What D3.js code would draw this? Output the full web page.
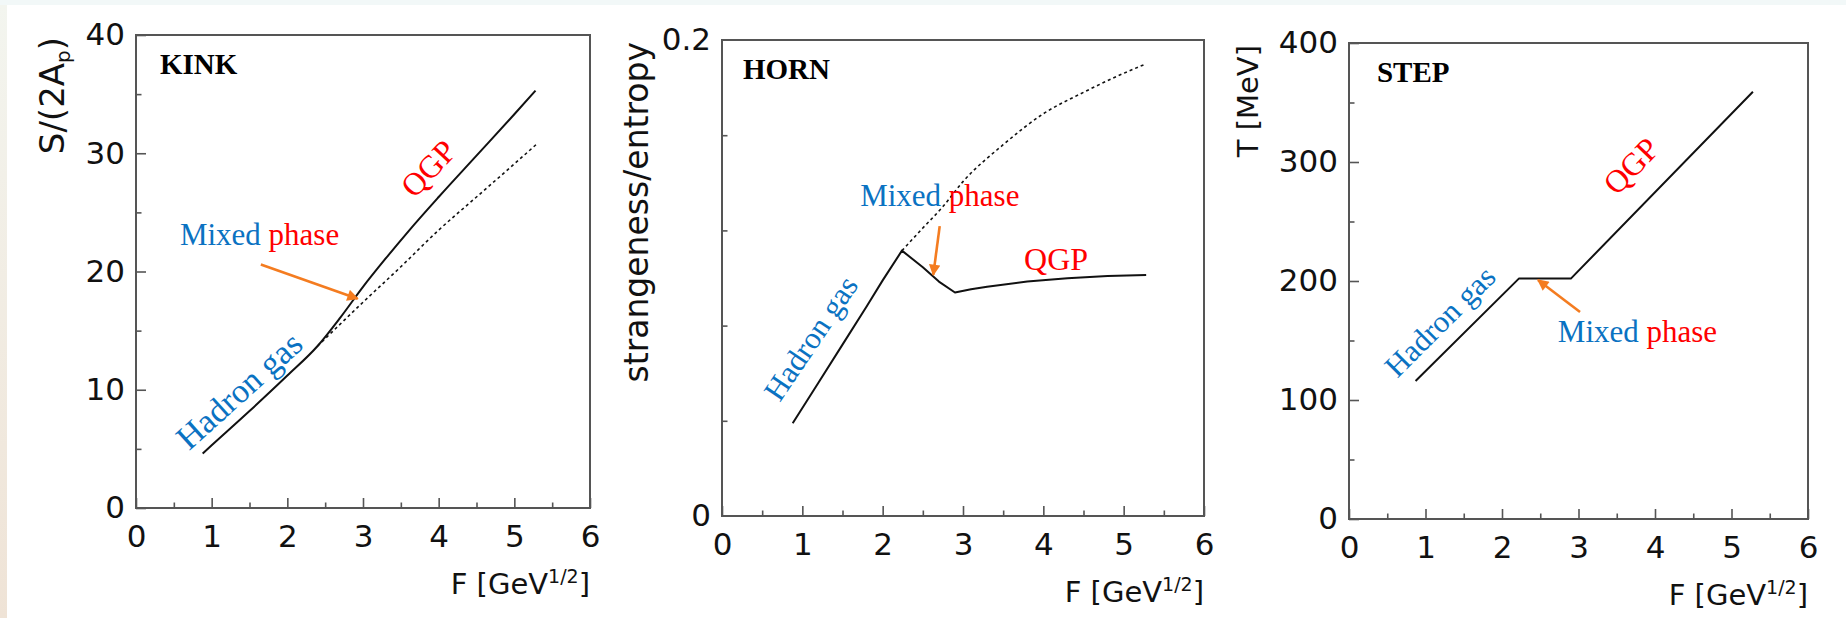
<!DOCTYPE html>
<html lang="en">
<head>
<meta charset="UTF-8">
<title>Kink, horn and step</title>
<script src="https://d3js.org/d3.v7.min.js"></script>
<style>
  body { margin: 0; background: #fff; }
  .tick text { font-family: "DejaVu Sans", sans-serif; fill: #111; }
  .note { font-family: "Liberation Serif", serif; }
</style>
</head>
<body>
<div id="chart"></div>
<script>
// shared x axis: F in GeV^1/2
var fTicks = [0, 1, 2, 3, 4, 5, 6];
var fMinor = [0.5, 1.5, 2.5, 3.5, 4.5, 5.5];

// KINK: entropy per participant nucleon
var kinkF = [0.88, 1.0, 1.5, 2.0, 2.4, 2.7, 3.0, 3.3, 3.6, 4.0, 4.5, 5.0, 5.28];
var kinkS = [4.6, 5.3, 8.2, 11.2, 13.7, 16.1, 18.7, 21.1, 23.4, 26.3, 29.8, 33.3, 35.3];
var kinkHadF = [2.4, 3.0, 3.5, 4.0, 4.5, 5.0, 5.3];
var kinkHadS = [13.7, 17.4, 20.4, 23.5, 26.3, 29.1, 30.8];
var kinkTicks = [0, 10, 20, 30, 40];
var kinkMinor = [5, 15, 25, 35];

// HORN: strangeness / entropy
var hornF = [0.88, 1.2, 1.5, 1.8, 2.0, 2.24, 2.5, 2.7, 2.9, 3.1, 3.3, 3.8, 4.3, 4.8, 5.28];
var hornR = [0.039, 0.056, 0.072, 0.088, 0.099, 0.1115, 0.1045, 0.0985, 0.0939, 0.0953, 0.0963, 0.0985, 0.0999, 0.1008, 0.1013];
var hornHadF = [2.24, 2.5, 2.75, 3.0, 3.5, 4.0, 4.5, 5.0, 5.28];
var hornHadR = [0.1115, 0.121, 0.130, 0.1405, 0.156, 0.169, 0.178, 0.186, 0.190];
var hornTicks = [0, 0.2];
var hornMinor = [0.04, 0.08, 0.12, 0.16];

// STEP: temperature
var stepF = [0.87, 2.22, 2.9, 5.28];
var stepT = [116, 202, 202, 359];
var stepTicks = [0, 100, 200, 300, 400];
var stepMinor = [50, 150, 250, 350];

var blue = "#0a72c2", red = "#ff0000", orange = "#f47c20";

var panels = [
  { title: "KINK", box: [136, 590, 35, 508], yMax: 40, ticks: kinkTicks, minor: kinkMinor, fmt: d3.format("d"),
    solid: [kinkF, kinkS], smooth: true, dotted: [kinkHadF, kinkHadS],
    yTitle: ["S/(2A", "p", ")"], yTitleX: 64, yTitleSize: 34,
    titlePos: [0.317, 36.7], mixed: [0.58, 22.2], arrow: [[1.65, 20.6], [2.93, 17.7]],
    qgp: [3.68, 26.1, -47], hadron: [0.70, 4.8, -42], hadronSize: 34 },
  { title: "HORN", box: [722, 1204, 40, 516], yMax: 0.2, ticks: hornTicks, minor: hornMinor, fmt: d3.format("~g"),
    solid: [hornF, hornR], smooth: false, dotted: [hornHadF, hornHadR],
    yTitle: ["strangeness/entropy"], yTitleX: 648, yTitleSize: 33,
    titlePos: [0.26, 0.1836], mixed: [1.72, 0.1303], arrow: [[2.71, 0.1218], [2.63, 0.1013]],
    qgp: [3.76, 0.1034, 0], hadron: [0.72, 0.0475, -56], hadronSize: 31 },
  { title: "STEP", box: [1349, 1808, 43, 519], yMax: 400, ticks: stepTicks, minor: stepMinor, fmt: d3.format("d"),
    solid: [stepF, stepT], smooth: false, dotted: null,
    yTitle: ["T [MeV]"], yTitleX: 1258, yTitleSize: 29,
    titlePos: [0.366, 367], mixed: [2.73, 148.7], arrow: [[3.02, 174], [2.47, 200.8]],
    qgp: [3.50, 271, -46], hadron: [0.63, 117.6, -45], hadronSize: 31 }
];

var W = 1846, H = 618;
var svg = d3.select("#chart").append("svg").attr("width", W).attr("height", H);

var defs = svg.append("defs");
var grad = defs.append("linearGradient").attr("id", "edge").attr("x1", 0).attr("y1", 0).attr("x2", 0).attr("y2", 1);
grad.append("stop").attr("offset", "0").attr("stop-color", "#f3f5ef");
grad.append("stop").attr("offset", "1").attr("stop-color", "#efe3d6");
defs.append("marker").attr("id", "head")
  .attr("viewBox", "0 0 10 10").attr("refX", 9).attr("refY", 5)
  .attr("markerWidth", 5).attr("markerHeight", 4.4).attr("orient", "auto")
  .append("path").attr("d", "M0,0L10,5L0,10z").attr("fill", orange);

svg.append("rect").attr("width", W).attr("height", H).attr("fill", "#fff");
svg.append("rect").attr("width", W).attr("height", 5).attr("fill", "#f2f8f8");
svg.append("rect").attr("y", 5).attr("width", 7).attr("height", H - 5).attr("fill", "url(#edge)");

panels.forEach(function(p) {
  var x = d3.scaleLinear().domain([0, 6]).range([p.box[0], p.box[1]]);
  var y = d3.scaleLinear().domain([0, p.yMax]).range([p.box[3], p.box[2]]);
  var g = svg.append("g");

  // minor ticks
  g.append("g").attr("transform", "translate(0," + p.box[3] + ")")
    .call(d3.axisBottom(x).tickValues(fMinor).tickSize(-5.5).tickFormat(""));
  g.append("g").attr("transform", "translate(" + p.box[0] + ",0)")
    .call(d3.axisLeft(y).tickValues(p.minor).tickSize(-5.5).tickFormat(""));

  // major ticks + labels
  g.append("g").attr("transform", "translate(0," + p.box[3] + ")")
    .call(d3.axisBottom(x).tickValues(fTicks).tickSize(-10).tickPadding(17).tickFormat(d3.format("d")))
    .selectAll("text").attr("font-size", 31);
  g.append("g").attr("transform", "translate(" + p.box[0] + ",0)")
    .call(d3.axisLeft(y).tickValues(p.ticks).tickSize(p.ticks.length > 2 ? -10 : 0).tickPadding(11).tickFormat(p.fmt))
    .selectAll("text").attr("font-size", 31);

  g.selectAll(".domain").remove();
  g.selectAll(".tick line").attr("stroke", "#555").attr("stroke-width", 1.6);

  // frame
  g.append("rect")
    .attr("x", p.box[0]).attr("y", p.box[2])
    .attr("width", p.box[1] - p.box[0]).attr("height", p.box[3] - p.box[2])
    .attr("fill", "none").attr("stroke", "#555").attr("stroke-width", 2);

  var line = d3.line().x(function(d) { return x(d[0]); }).y(function(d) { return y(d[1]); });
  var smoothLine = d3.line().curve(d3.curveMonotoneX).x(function(d) { return x(d[0]); }).y(function(d) { return y(d[1]); });
  if (p.dotted) {
    g.append("path").datum(d3.zip(p.dotted[0], p.dotted[1])).attr("d", smoothLine)
      .attr("fill", "none").attr("stroke", "#111").attr("stroke-width", 1.6).attr("stroke-dasharray", "3,3");
  }
  g.append("path").datum(d3.zip(p.solid[0], p.solid[1])).attr("d", p.smooth ? smoothLine : line)
    .attr("fill", "none").attr("stroke", "#111").attr("stroke-width", 2).attr("stroke-linejoin", "round");

  // axis titles
  var xt = g.append("text").attr("x", p.box[1]).attr("y", p.box[3] + 86)
    .attr("text-anchor", "end").attr("font-family", "DejaVu Sans, sans-serif").attr("font-size", 29).attr("fill", "#111");
  xt.append("tspan").text("F [GeV");
  xt.append("tspan").attr("dy", -11).attr("font-size", 19).text("1/2");
  xt.append("tspan").attr("dy", 11).text("]");

  var yt = g.append("text")
    .attr("transform", "translate(" + p.yTitleX + "," + (p.box[2] + 2) + ") rotate(-90)")
    .attr("text-anchor", "end").attr("font-family", "DejaVu Sans, sans-serif").attr("font-size", p.yTitleSize).attr("fill", "#111");
  yt.append("tspan").text(p.yTitle[0]);
  if (p.yTitle.length > 1) {
    yt.append("tspan").attr("dy", 6).attr("font-size", 20).text(p.yTitle[1]);
    yt.append("tspan").attr("dy", -6).text(p.yTitle[2]);
  }

  // annotations
  g.append("text").attr("class", "note").attr("x", x(p.titlePos[0])).attr("y", y(p.titlePos[1]))
    .attr("font-weight", "bold").attr("font-size", 29).attr("fill", "#000").text(p.title);

  var mx = g.append("text").attr("class", "note").attr("x", x(p.mixed[0])).attr("y", y(p.mixed[1])).attr("font-size", 31);
  mx.append("tspan").attr("fill", blue).text("Mixed ");
  mx.append("tspan").attr("fill", red).text("phase");

  g.append("line")
    .attr("x1", x(p.arrow[0][0])).attr("y1", y(p.arrow[0][1]))
    .attr("x2", x(p.arrow[1][0])).attr("y2", y(p.arrow[1][1]))
    .attr("stroke", orange).attr("stroke-width", 2.6).attr("marker-end", "url(#head)");

  g.append("text").attr("class", "note").attr("font-size", 32).attr("fill", red)
    .attr("transform", "translate(" + x(p.qgp[0]) + "," + y(p.qgp[1]) + ") rotate(" + p.qgp[2] + ")")
    .text("QGP");
  g.append("text").attr("class", "note").attr("font-size", p.hadronSize).attr("fill", blue)
    .attr("transform", "translate(" + x(p.hadron[0]) + "," + y(p.hadron[1]) + ") rotate(" + p.hadron[2] + ")")
    .text("Hadron gas");
});
</script>
</body>
</html>
